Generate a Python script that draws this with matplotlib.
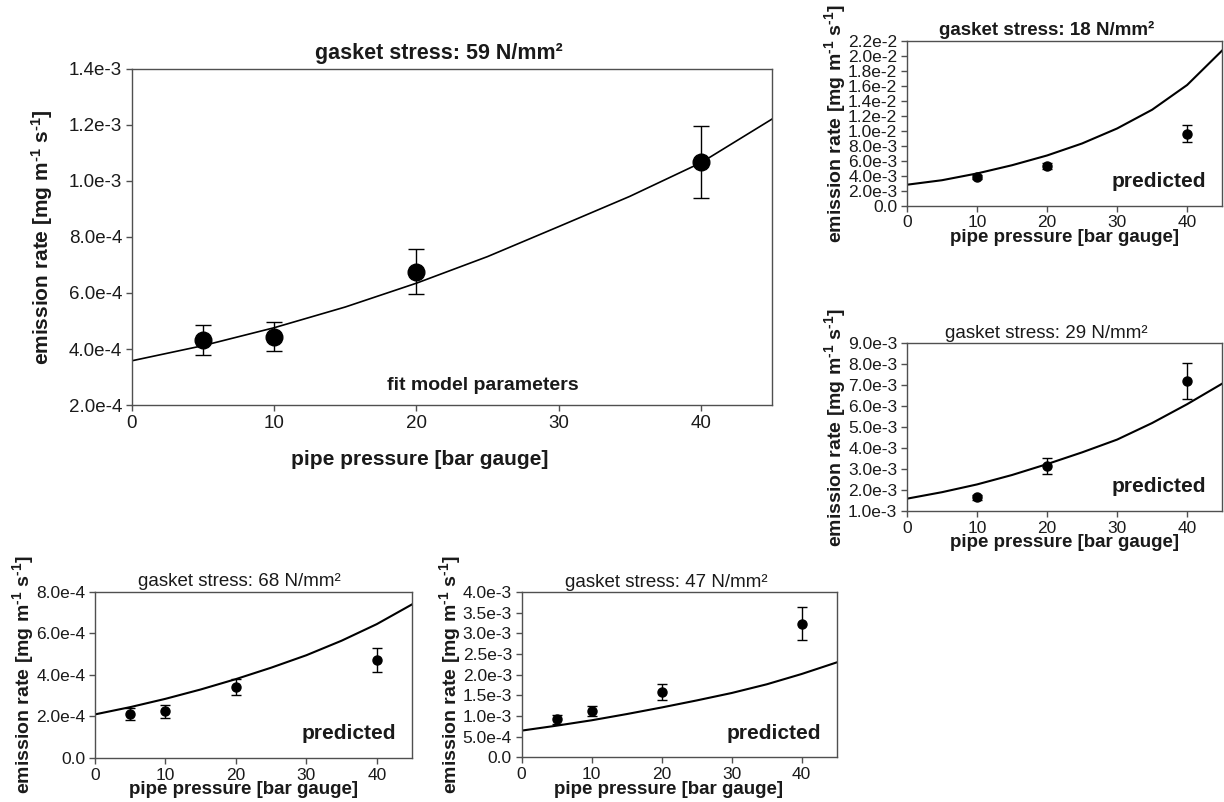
import numpy as np
import matplotlib
matplotlib.use('Agg')
import matplotlib.pyplot as plt
from matplotlib.ticker import FixedLocator, FixedFormatter

pressure_fit = [5, 10, 20, 40]
rate_59 = [4.32e-4, 4.44e-4, 6.76e-4, 1.069e-3]
err_59 = [5.2e-5, 5.2e-5, 8.1e-5, 1.28e-4]

pressure_18 = [10, 20, 40]
rate_18 = [3.8e-3, 5.3e-3, 9.6e-3]
err_18 = [3.0e-4, 4.5e-4, 1.1e-3]

pressure_29 = [10, 20, 40]
rate_29 = [1.65e-3, 3.14e-3, 7.2e-3]
err_29 = [1.0e-4, 3.8e-4, 8.7e-4]

pressure_68 = [5, 10, 20, 40]
rate_68 = [2.12e-4, 2.24e-4, 3.42e-4, 4.73e-4]
err_68 = [3.0e-5, 3.0e-5, 4.0e-5, 5.8e-5]

pressure_47 = [5, 10, 20, 40]
rate_47 = [9.2e-4, 1.13e-3, 1.59e-3, 3.24e-3]
err_47 = [1.0e-4, 1.2e-4, 1.9e-4, 3.9e-4]

# model curves, every 5 bar
curve_p = [0, 5, 10, 15, 20, 25, 30, 35, 40, 45]
curve_59 = [3.58e-4, 4.12e-4, 4.76e-4, 5.5e-4, 6.35e-4, 7.3e-4, 8.37e-4, 9.45e-4, 1.065e-3, 1.221e-3]
curve_18 = [2.8e-3, 3.4e-3, 4.3e-3, 5.4e-3, 6.7e-3, 8.3e-3, 1.03e-2, 1.28e-2, 1.61e-2, 2.07e-2]
curve_29 = [1.59e-3, 1.9e-3, 2.27e-3, 2.72e-3, 3.24e-3, 3.8e-3, 4.41e-3, 5.2e-3, 6.1e-3, 7.08e-3]
curve_68 = [2.1e-4, 2.45e-4, 2.85e-4, 3.3e-4, 3.8e-4, 4.35e-4, 4.95e-4, 5.65e-4, 6.45e-4, 7.4e-4]
curve_47 = [6.5e-4, 7.7e-4, 9.0e-4, 1.05e-3, 1.21e-3, 1.38e-3, 1.56e-3, 1.77e-3, 2.02e-3, 2.3e-3]

# axis ticks
xticks = [0, 10, 20, 30, 40]
yticks_59 = [2e-4, 4e-4, 6e-4, 8e-4, 1e-3, 1.2e-3, 1.4e-3]
ylabels_59 = ['2.0e-4', '4.0e-4', '6.0e-4', '8.0e-4', '1.0e-3', '1.2e-3', '1.4e-3']
yticks_18 = [0, 2e-3, 4e-3, 6e-3, 8e-3, 1e-2, 1.2e-2, 1.4e-2, 1.6e-2, 1.8e-2, 2e-2, 2.2e-2]
ylabels_18 = ['0.0', '2.0e-3', '4.0e-3', '6.0e-3', '8.0e-3', '1.0e-2', '1.2e-2',
              '1.4e-2', '1.6e-2', '1.8e-2', '2.0e-2', '2.2e-2']
yticks_29 = [1e-3, 2e-3, 3e-3, 4e-3, 5e-3, 6e-3, 7e-3, 8e-3, 9e-3]
ylabels_29 = ['1.0e-3', '2.0e-3', '3.0e-3', '4.0e-3', '5.0e-3', '6.0e-3', '7.0e-3', '8.0e-3', '9.0e-3']
yticks_68 = [0, 2e-4, 4e-4, 6e-4, 8e-4]
ylabels_68 = ['0.0', '2.0e-4', '4.0e-4', '6.0e-4', '8.0e-4']
yticks_47 = [0, 5e-4, 1e-3, 1.5e-3, 2e-3, 2.5e-3, 3e-3, 3.5e-3, 4e-3]
ylabels_47 = ['0.0', '5.0e-4', '1.0e-3', '1.5e-3', '2.0e-3', '2.5e-3', '3.0e-3', '3.5e-3', '4.0e-3']

plt.rcParams['font.family'] = ['Liberation Sans', 'DejaVu Sans']
plt.rcParams['mathtext.fontset'] = 'custom'
plt.rcParams['mathtext.bf'] = 'Liberation Sans:bold'
plt.rcParams['mathtext.rm'] = 'Liberation Sans:bold'
plt.rcParams['mathtext.default'] = 'bf'

ylab = r'emission rate [mg m$^{\text{-1}}$ s$^{\text{-1}}$]'
xlab = 'pipe pressure [bar gauge]'
spine_col = '#505050'
txt_col = '#1a1a1a'

fig = plt.figure(figsize=(12.24, 8.02), dpi=100, facecolor='w')


def panel(rect, p, y, e, cp, cy, yt, yl, ylim, title, title_bold, note,
          title_x=0.45, xlab_x=0.5, big=False):
    ax = fig.add_axes(rect)
    ms = 12 if big else 6.5
    cap = 5.5 if big else 3.5
    ax.plot(cp, cy, color='k', lw=1.2 if big else 1.5, zorder=2)
    ax.errorbar(p, y, yerr=e, fmt='o', color='k', ms=ms, capsize=cap,
                elinewidth=1, capthick=1, zorder=3)
    ax.set_xlim(0, 45)
    ax.set_ylim(*ylim)
    ax.xaxis.set_major_locator(FixedLocator(xticks))
    ax.yaxis.set_major_locator(FixedLocator(yt))
    ax.yaxis.set_major_formatter(FixedFormatter(yl))
    for s in ax.spines.values():
        s.set_color(spine_col)
        s.set_linewidth(1.0)
    tick_fs = 13.5 if big else 12.5
    ax.tick_params(direction='out', length=4, width=1, color=spine_col,
                   labelsize=tick_fs, labelcolor=txt_col, pad=3,
                   top=False, right=False)
    ax.set_xlabel(xlab, fontsize=15 if big else 13.5, fontweight='bold',
                  color=txt_col, labelpad=13 if big else -1, x=xlab_x)
    ax.set_ylabel(ylab, fontsize=15 if big else 14, fontweight='bold',
                  color=txt_col, labelpad=10 if big else 0)
    ax.set_title(title, fontsize=15.5 if big else 13.5,
                 fontweight='bold' if title_bold else 'normal',
                 color=txt_col, pad=7 if big else 4, x=title_x)
    if big:
        ax.text(0.548, 0.057, note, transform=ax.transAxes, fontsize=14,
                fontweight='bold', ha='center', va='center', color=txt_col)
    else:
        ax.text(0.95, 0.145, note, transform=ax.transAxes, fontsize=15,
                fontweight='bold', ha='right', va='center', color=txt_col)
    return ax


panel([0.1078, 0.495, 0.5229, 0.419], pressure_fit, rate_59, err_59,
      curve_p, curve_59, yticks_59, ylabels_59, (2e-4, 1.4e-3),
      'gasket stress: 59 N/mm²', True, 'fit model parameters',
      title_x=0.48, xlab_x=0.45, big=True)

panel([0.741, 0.7435, 0.2575, 0.2057], pressure_18, rate_18, err_18,
      curve_p, curve_18, yticks_18, ylabels_18, (0, 2.2e-2),
      'gasket stress: 18 N/mm²', True, 'predicted', title_x=0.443)

panel([0.741, 0.3628, 0.2575, 0.209], pressure_29, rate_29, err_29,
      curve_p, curve_29, yticks_29, ylabels_29, (1e-3, 9e-3),
      'gasket stress: 29 N/mm²', False, 'predicted', title_x=0.443)

panel([0.0776, 0.0549, 0.259, 0.207], pressure_68, rate_68, err_68,
      curve_p, curve_68, yticks_68, ylabels_68, (0, 8e-4),
      'gasket stress: 68 N/mm²', False, 'predicted',
      title_x=0.454, xlab_x=0.47)

panel([0.4262, 0.0555, 0.2574, 0.2062], pressure_47, rate_47, err_47,
      curve_p, curve_47, yticks_47, ylabels_47, (0, 4e-3),
      'gasket stress: 47 N/mm²', False, 'predicted',
      title_x=0.458, xlab_x=0.465)

fig.savefig('out.png', dpi=100, facecolor='w')
